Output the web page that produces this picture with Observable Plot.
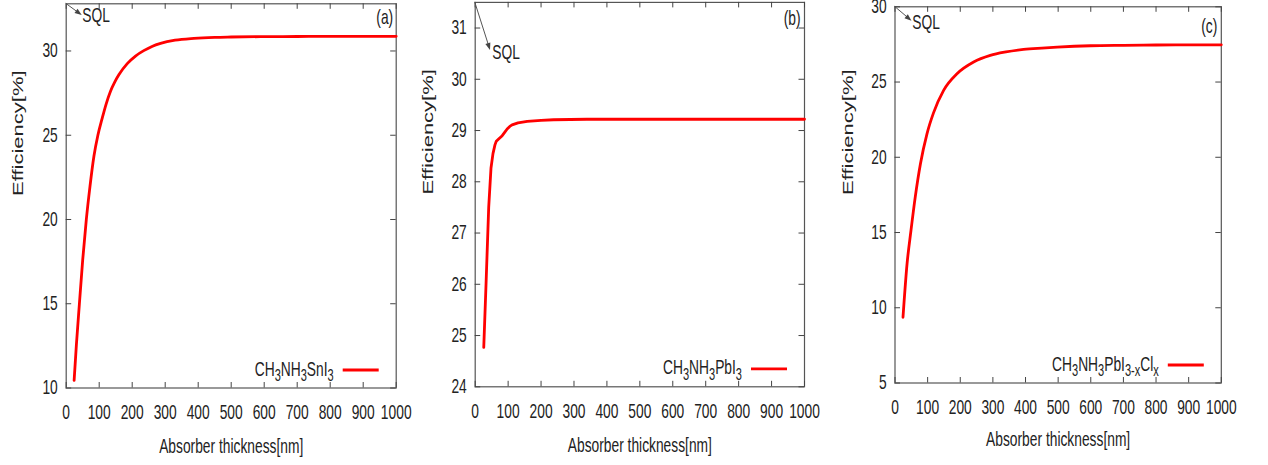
<!DOCTYPE html>
<html><head><meta charset="utf-8">
<script src="https://cdn.jsdelivr.net/npm/d3@7"></script>
<script src="https://cdn.jsdelivr.net/npm/@observablehq/plot@0.6"></script>
<style>
body{margin:0;background:#fff;}
#wrap{position:relative;width:1268px;height:465px;overflow:hidden;background:#fff;}
#wrap svg{position:absolute;top:0;}
</style></head><body><div id="wrap"></div>
<script>
// ---- data ----
const xTicks = [0, 100, 200, 300, 400, 500, 600, 700, 800, 900, 1000];

const thicknessA = [24, 31, 40, 50, 61, 72, 84, 96, 109, 121, 134, 147, 160, 185, 210, 235, 260, 286, 330, 387, 450, 500, 589, 700, 800, 900, 1000];
const efficiencyA = [10.45, 12.6, 15.0, 17.6, 20.0, 21.95, 23.75, 25.0, 26.0, 26.85, 27.6, 28.15, 28.6, 29.25, 29.7, 30.02, 30.27, 30.45, 30.64, 30.75, 30.81, 30.83, 30.85, 30.86, 30.87, 30.87, 30.87];
const yTicksA = [10, 15, 20, 25, 30];

const thicknessB = [26, 33, 41, 48, 54, 60, 64, 72, 82, 90, 97, 105, 112, 130, 158, 200, 238, 339, 500, 700, 1000];
const efficiencyB = [24.77, 26.02, 27.5, 28.27, 28.55, 28.72, 28.79, 28.84, 28.9, 28.97, 29.03, 29.08, 29.11, 29.15, 29.18, 29.2, 29.21, 29.22, 29.22, 29.22, 29.22];
const yTicksB = [24, 25, 26, 27, 28, 29, 30, 31];

const thicknessC = [24.5, 37, 49, 62, 78, 98, 118, 149, 190, 241, 292, 340, 394, 450, 497, 599, 700, 800, 900, 1000];
const efficiencyC = [9.37, 12.93, 15.14, 17.35, 19.57, 21.56, 22.95, 24.45, 25.55, 26.33, 26.77, 27.0, 27.17, 27.26, 27.32, 27.41, 27.44, 27.46, 27.47, 27.47];
const yTicksC = [5, 10, 15, 20, 25, 30];

const panelTags = ["(a)", "(b)", "(c)"];
const sqlLabel = "SQL";
const xTitle = "Absorber thickness[nm]";
const yTitle = "Efficiency[%]";
// legend label segments: [text, isSubscript]
const legendA = [["CH",0],["3",1],["NH",0],["3",1],["SnI",0],["3",1]];
const legendB = [["CH",0],["3",1],["NH",0],["3",1],["PbI",0],["3",1]];
const legendC = [["CH",0],["3",1],["NH",0],["3",1],["PbI",0],["3-x",1],["Cl",0],["x",1]];

const FONT = "'Liberation Sans', Arial, Helvetica, sans-serif";
const SQUEEZE = 0.69;

// condense glyphs horizontally (the reference's text is horizontally compressed)
function squeeze(svg) {
  svg.querySelectorAll("text").forEach(t => {
    if (t.classList.contains("legend-label")) return;
    const tr = t.getAttribute("transform") || "";
    const rot = /rotate/.test(tr);
    t.setAttribute("transform", `${tr} ${rot ? `scale(1,${SQUEEZE})` : `scale(${SQUEEZE},1)`}`);
  });
}

function panel(cfg) {
  const {left, width, height = 465, m, ydomain, yticks, xs, ys, curve, legend,
         tag, tagdx, tagdy, sqldx, sqldy, arrowTo, ydx, xdy} = cfg;
  const data = xs.map((x, i) => ({x, y: ys[i]}));
  const fw = width - m.left - m.right, fh = height - m.top - m.bottom;
  const ink = "#222";
  const svg = Plot.plot({
    width, height,
    marginTop: m.top, marginRight: m.right, marginBottom: m.bottom, marginLeft: m.left,
    x: {domain: [0, 1000], axis: null},
    y: {domain: ydomain, axis: null},
    style: {fontFamily: FONT, fontSize: "20px", background: "transparent", overflow: "visible", color: ink},
    marks: [
      Plot.frame({stroke: "#555", strokeWidth: 1.2}),
      Plot.ruleX(xTicks, {x: d => d, insetTop: fh - 5.5, stroke: "#444"}),
      Plot.ruleX(xTicks, {x: d => d, insetBottom: fh - 5.5, stroke: "#444"}),
      Plot.ruleY(yticks, {y: d => d, insetRight: fw - 5.5, stroke: "#444"}),
      Plot.ruleY(yticks, {y: d => d, insetLeft: fw - 5.5, stroke: "#444"}),
      Plot.line(data, {x: "x", y: "y", stroke: "#ff0000", strokeWidth: 2.8, curve}),
      Plot.text(xTicks, {x: d => d, text: d => String(d), frameAnchor: "bottom", dy: 16.5, lineAnchor: "top", fontSize: 20, fill: ink}),
      Plot.text(yticks, {y: d => d, text: d => String(d), frameAnchor: "left", dx: -8.4, textAnchor: "end", lineAnchor: "middle", fontSize: 20, fill: ink}),
      Plot.text([xTitle], {text: d => d, frameAnchor: "bottom", dy: xdy, lineAnchor: "middle", fontSize: 20, fill: ink}),
      Plot.text([yTitle], {text: d => d, frameAnchor: "left", dx: ydx, rotate: -90, lineAnchor: "middle", fontSize: 22, fill: ink}),
      Plot.text([sqlLabel], {text: d => d, frameAnchor: "top-left", dx: sqldx, dy: sqldy, textAnchor: "start", lineAnchor: "middle", fontSize: 20, fill: ink}),
      Plot.text([tag], {text: d => d, frameAnchor: "top-right", dx: tagdx, dy: tagdy, textAnchor: "end", lineAnchor: "middle", fontSize: 20, fill: ink})
    ]
  });
  const g = d3.select(svg).append("g");
  // SQL arrow from top-left corner of frame
  const x0 = m.left, y0 = m.top, x1 = m.left + arrowTo[0], y1 = m.top + arrowTo[1];
  const ang = Math.atan2(y1 - y0, x1 - x0), L = 7, W = 2.6;
  g.append("line").attr("x1", x0).attr("y1", y0)
    .attr("x2", x1 - L * 0.8 * Math.cos(ang)).attr("y2", y1 - L * 0.8 * Math.sin(ang))
    .attr("stroke", "#555").attr("stroke-width", 1);
  const bx = x1 - L * Math.cos(ang), by = y1 - L * Math.sin(ang);
  g.append("polygon").attr("points", [
    [x1, y1],
    [bx + W * Math.sin(ang), by - W * Math.cos(ang)],
    [bx - W * Math.sin(ang), by + W * Math.cos(ang)]
  ].map(p => p.join(",")).join(" ")).attr("fill", "#444");
  // legend
  const lx2 = width - m.right - 17, lx1 = lx2 - 36, ly = height - m.bottom - 17.5;
  g.append("line").attr("x1", lx1).attr("x2", lx2).attr("y1", ly).attr("y2", ly)
    .attr("stroke", "#ff0000").attr("stroke-width", 2.8);
  const t = g.append("text").attr("class", "legend-label")
    .attr("transform", `translate(${lx1 - 9},${ly + 5.5}) scale(${SQUEEZE},1)`)
    .attr("text-anchor", "end").attr("font-size", 20).attr("fill", ink).attr("font-family", FONT);
  let sub = false;
  legend.forEach(([s, isSub]) => {
    const ts = t.append("tspan").text(s);
    if (isSub && !sub) { ts.attr("dy", 5.5).attr("font-size", 16); sub = true; }
    else if (isSub) { ts.attr("font-size", 16); }
    else if (!isSub && sub) { ts.attr("dy", -5.5); sub = false; }
  });
  squeeze(svg);
  svg.style.left = left + "px";
  document.getElementById("wrap").appendChild(svg);
}

panel({left: 0, width: 410, m: {top: 3.3, right: 14.3, bottom: 77.5, left: 65.7},
  ydomain: [10, 32.8], yticks: yTicksA, xs: thicknessA, ys: efficiencyA, curve: "monotone-x",
  legend: legendA, tag: panelTags[0], tagdx: -3, tagdy: 13.4, sqldx: 16, sqldy: 12.2,
  arrowTo: [16, 11.7], ydx: -48, xdy: 58.5});

panel({left: 410, width: 410, m: {top: 1.9, right: 16, bottom: 78.7, left: 64.7},
  ydomain: [24, 31.5], yticks: yTicksB, xs: thicknessB, ys: efficiencyB, curve: "linear",
  legend: legendB, tag: panelTags[1], tagdx: -4, tagdy: 16.4, sqldx: 17, sqldy: 50,
  arrowTo: [15.3, 48], ydx: -46.7, xdy: 59});

panel({left: 830, width: 438, m: {top: 6.3, right: 47.2, bottom: 82.5, left: 64.5},
  ydomain: [5, 30], yticks: yTicksC, xs: thicknessC, ys: efficiencyC, curve: "monotone-x",
  legend: legendC, tag: panelTags[2], tagdx: -4, tagdy: 19.5, sqldx: 17.2, sqldy: 15.7,
  arrowTo: [17, 14.4], ydx: -46.5, xdy: 56.7});
</script></body></html>
